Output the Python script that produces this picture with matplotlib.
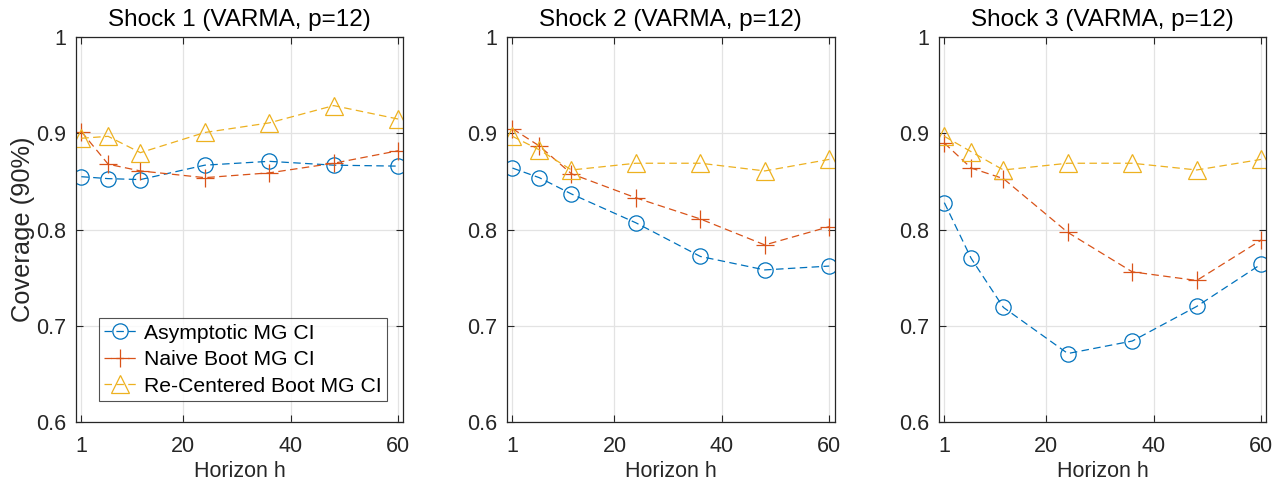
import matplotlib
matplotlib.use("Agg")
from matplotlib import pyplot as plt

# Horizons et couverture
horizons = [1, 6, 12, 24, 36, 48, 60]
titles = ["Shock 1 (VARMA, p=12)", "Shock 2 (VARMA, p=12)", "Shock 3 (VARMA, p=12)"]

asym_1 = [0.855, 0.853, 0.852, 0.867, 0.871, 0.867, 0.866]
naive_1 = [0.902, 0.868, 0.861, 0.854, 0.859, 0.869, 0.882]
recen_1 = [0.895, 0.897, 0.880, 0.901, 0.911, 0.929, 0.915]

asym_2 = [0.864, 0.854, 0.837, 0.807, 0.772, 0.758, 0.762]
naive_2 = [0.905, 0.887, 0.858, 0.833, 0.811, 0.784, 0.803]
recen_2 = [0.897, 0.883, 0.862, 0.869, 0.869, 0.861, 0.873]

asym_3 = [0.828, 0.770, 0.719, 0.671, 0.684, 0.720, 0.764]
naive_3 = [0.890, 0.864, 0.853, 0.797, 0.756, 0.747, 0.789]
recen_3 = [0.897, 0.881, 0.862, 0.869, 0.869, 0.862, 0.873]

series_names = ["Asymptotic MG CI", "Naive Boot MG CI", "Re-Centered Boot MG CI"]
panels = [(asym_1, naive_1, recen_1), (asym_2, naive_2, recen_2), (asym_3, naive_3, recen_3)]

yticks = [0.6, 0.7, 0.8, 0.9, 1.0]
ytick_labels = ["0.6", "0.7", "0.8", "0.9", "1"]
xticks = [1, 20, 40, 60]

# Couleurs par défaut de MATLAB
colors = ["#0072BD", "#D95319", "#EDB120"]
markers = ["o", "+", "^"]
msizes = [11, 13, 13.5]

plt.rcParams["font.family"] = ["Liberation Sans", "DejaVu Sans"]

fig = plt.figure(figsize=(12.85, 4.82), dpi=100)
lefts = [0.0591, 0.3946, 0.7307]

for k in range(3):
    ax = fig.add_axes([lefts[k], 0.125, 0.2549, 0.7975])
    for s in range(3):
        ax.plot(horizons, panels[k][s], linestyle="--", dashes=(6, 3.5), linewidth=0.9,
                color=colors[s], marker=markers[s], markersize=msizes[s],
                markerfacecolor="none", markeredgewidth=0.9, label=series_names[s])
    ax.set_xlim(0, 61)
    ax.set_ylim(0.6, 1.0)
    ax.set_xticks(xticks)
    ax.set_yticks(yticks)
    ax.set_yticklabels(ytick_labels)
    ax.grid(True, color="#e3e3e3", linewidth=0.9)
    ax.set_axisbelow(True)
    ax.tick_params(direction="in", top=True, right=True, length=5, width=0.8,
                   colors="#262626", labelsize=15.5)
    ax.tick_params(axis="x", pad=10)
    ax.tick_params(axis="y", pad=7)
    for sp in ax.spines.values():
        sp.set_color("#262626")
        sp.set_linewidth(0.9)
    ax.set_title(titles[k], fontsize=17.5, color="black", pad=8)
    ax.set_xlabel("Horizon h", fontsize=15.5, color="#262626", labelpad=3)
    if k == 0:
        ax.set_ylabel("Coverage (90%)", fontsize=18.3, color="#262626", labelpad=1)
        leg = ax.legend(loc="lower left", bbox_to_anchor=(0.07, 0.054), borderaxespad=0,
                        fontsize=15.2, frameon=True, fancybox=False, handlelength=1.5,
                        borderpad=0.25, labelspacing=0.36, handletextpad=0.4)
        leg.get_frame().set_edgecolor("#262626")
        leg.get_frame().set_linewidth(0.8)

fig.savefig("out.png", dpi=100)
